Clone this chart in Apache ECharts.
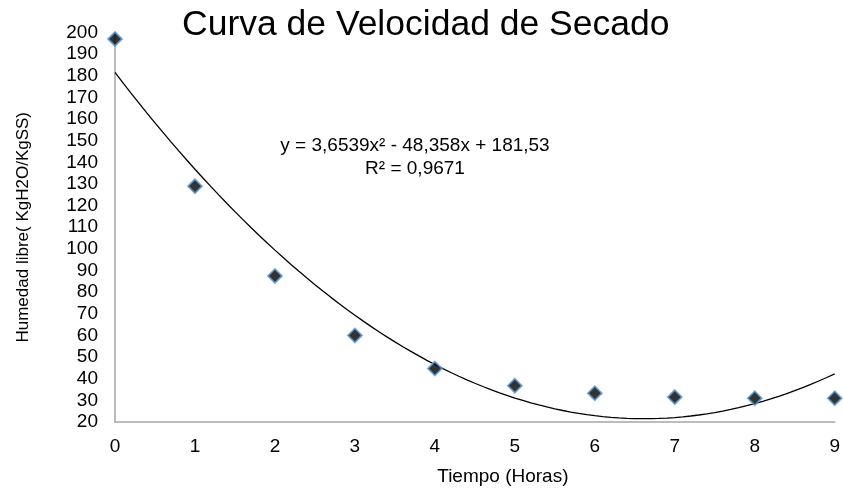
<!DOCTYPE html>
<html>
<head>
<meta charset="utf-8">
<script src="https://cdn.jsdelivr.net/npm/echarts@6/dist/echarts.min.js"></script>
<style>
html,body{margin:0;padding:0;background:#fff;}
#chart{width:843px;height:491px;}
</style>
</head>
<body>
<div id="chart"></div>
<script>
// Data
const tiempo = [0, 1, 2, 3, 4, 5, 6, 7, 8, 9];
const humedad = [197, 129, 87.5, 60, 44.7, 36.8, 33.3, 31.5, 31, 31];
// Trendline coefficients as printed on the chart: c0 + c1*x + c2*x^2
const trendCoef = [181.53, -48.358, 3.6539];
const trendLabel = ['y = 3,6539x² - 48,358x + 181,53', 'R² = 0,9671'];
const titleText = 'Curva de Velocidad de Secado';
const xName = 'Tiempo (Horas)';
const yName = 'Humedad libre( KgH2O/KgSS)';

const points = tiempo.map((t, i) => [t, humedad[i]]);
const trend = [];
for (let k = 0; k <= 90; k++) {
  const x = k / 10;
  trend.push([x, trendCoef[0] + trendCoef[1] * x + trendCoef[2] * x * x]);
}

const FONT = '"Liberation Sans", Arial, sans-serif';
const chart = echarts.init(document.getElementById('chart'), null, {renderer: 'canvas'});
chart.setOption({
  animation: false,
  backgroundColor: '#ffffff',
  title: {
    text: titleText,
    left: 182,
    top: 7,
    padding: 0,
    textStyle: {fontFamily: FONT, fontSize: 35.5, fontWeight: 'normal', color: '#000'}
  },
  grid: {left: 115, right: 5, top: 32.5, bottom: 66.3, containLabel: false},
  xAxis: {
    type: 'value',
    min: 0, max: 9, interval: 1,
    name: xName,
    nameLocation: 'middle',
    nameGap: 45,
    nameTextStyle: {fontFamily: FONT, fontSize: 19, color: '#000', padding: [0, 0, 0, 56]},
    axisLine: {show: true, lineStyle: {color: '#a6a6a6', width: 1.5}},
    axisTick: {show: false},
    splitLine: {show: false},
    axisLabel: {fontFamily: FONT, fontSize: 19, color: '#000', margin: 15}
  },
  yAxis: {
    type: 'value',
    min: 20, max: 200, interval: 10,
    name: yName,
    nameLocation: 'middle',
    nameGap: 83,
    nameRotate: 90,
    nameTextStyle: {fontFamily: FONT, fontSize: 17, color: '#000'},
    axisLine: {show: true, lineStyle: {color: '#a6a6a6', width: 1.5}},
    axisTick: {show: false},
    splitLine: {show: false},
    axisLabel: {fontFamily: FONT, fontSize: 19, color: '#000', margin: 17}
  },
  graphic: [{
    type: 'text',
    x: 415,
    y: 134,
    style: {
      text: trendLabel.join('\n'),
      font: '19px ' + FONT,
      fill: '#000',
      align: 'center',
      verticalAlign: 'top',
      lineHeight: 23
    }
  }],
  series: [
    {
      type: 'line',
      data: trend,
      showSymbol: false,
      symbol: 'none',
      lineStyle: {color: '#000', width: 1.3},
      z: 2
    },
    {
      type: 'scatter',
      data: points,
      symbol: 'diamond',
      symbolSize: 14,
      itemStyle: {color: '#000', borderColor: '#5b9bd5', borderWidth: 1.8},
      z: 3
    }
  ]
});
</script>
</body>
</html>
